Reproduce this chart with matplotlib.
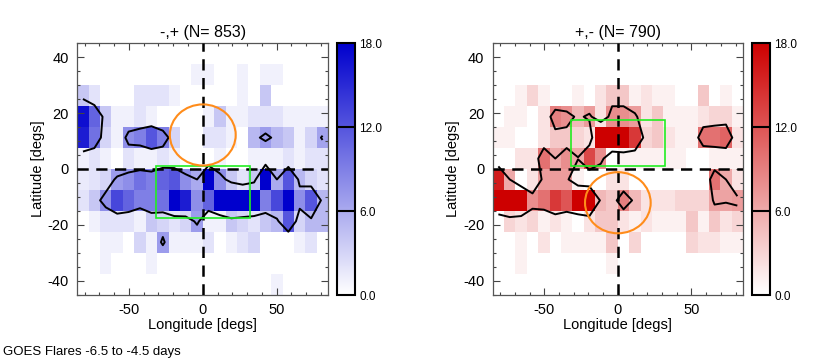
import numpy as np
import matplotlib
matplotlib.use("Agg")
import matplotlib.pyplot as plt
from matplotlib.colors import LinearSegmentedColormap
from matplotlib.patches import Ellipse, Rectangle
from matplotlib.ticker import MultipleLocator

plt.rcParams['font.family'] = ['Liberation Sans', 'DejaVu Sans']
plt.rcParams['axes.unicode_minus'] = False

# binning: 22 longitude bins over -85..85, 12 latitude bins of 7.5 deg
lon_edges = np.linspace(-85, 85, 23)
lat_edges = np.linspace(45, -45, 13)

# flare counts per bin, rows from north (45) to south (-45)
counts_neg_pos = [
    [0, 0, 0, 0, 0, 0, 0, 0, 0, 0, 0, 0, 0, 0, 0, 0, 0, 0, 0, 0, 0, 0],
    [0, 0, 0, 0, 0, 0, 0, 0, 0, 0, 1, 1, 0, 0, 1, 0, 1, 1, 0, 0, 0, 0],
    [4, 2, 0, 0, 0, 2, 2, 2, 1, 0, 0, 0, 0, 0, 1, 0, 4, 0, 0, 0, 0, 0],
    [17, 11, 4, 1, 1, 2, 1, 0, 0, 0, 0, 1, 4, 1, 1, 2, 2, 2, 1, 1, 1, 1],
    [16, 10, 3, 1, 8, 9, 12, 9, 3, 0, 0, 2, 2, 1, 0, 5, 7, 5, 4, 1, 3, 6.5],
    [1, 2, 1, 0, 2, 1, 1, 2, 1, 0, 0, 0, 1, 0, 0, 1, 1, 1, 2, 1, 2, 2],
    [1.5, 2, 3, 7, 8, 10, 9, 11, 12, 8, 6, 18, 8, 4, 2, 4, 18, 6, 12, 5, 3, 2],
    [2, 4, 8, 13, 11, 9, 9, 10, 18, 16, 8, 11, 18, 18, 18, 18, 9, 13, 18, 8, 12, 5],
    [0, 1, 2, 2, 2, 1, 4, 3, 2, 3, 7, 1, 1, 4, 3, 2, 4, 5, 12, 3, 5, 5],
    [0, 0, 1, 1, 0, 3, 1, 7, 1, 1, 1, 2, 0, 1, 2, 3, 0, 0, 0, 1, 2, 0],
    [0, 0, 1, 0, 0, 0, 1, 0, 0, 0, 0, 0, 0, 0, 0, 0, 0, 0, 0, 0, 0, 0],
    [0, 0, 0, 0, 0, 0, 0, 0, 0, 0, 0, 0, 0, 0, 0, 0, 0, 1, 0, 0, 0, 0],
]

counts_pos_neg = [
    [0, 0, 0, 0, 0, 0, 0, 0, 0, 0, 0, 0, 0, 0, 0, 0, 0, 0, 0, 0, 0, 0],
    [0, 0, 0, 0, 0, 0, 0, 0, 0, 0, 0, 0, 0, 0, 0, 0, 0, 0, 0, 0, 0, 0],
    [0, 0, 1, 3, 1, 0, 0, 1, 0, 2, 4, 4, 1, 2, 1, 1, 0, 0, 4, 0, 1, 0],
    [0, 1, 1, 0, 2, 9, 8, 5, 7, 2, 8, 8, 7, 2, 4, 1, 1, 1, 2, 3, 3, 1],
    [1, 1, 0, 0, 2, 4, 4, 3, 2, 18, 18, 18, 14, 3, 4, 2, 1, 1, 10, 10, 11, 2],
    [0, 0, 2, 2, 10, 6, 8, 6.2, 13, 8, 0, 1, 1, 1, 1, 1, 1, 0, 0, 1, 1, 1],
    [16, 6, 0, 2, 7, 7, 7, 1, 0, 0, 2, 2, 0, 0, 0, 0, 0, 0, 0, 10, 6, 2],
    [18, 18, 18, 8, 10, 14, 12, 18, 18, 5, 4, 9, 5, 2, 2, 2, 3, 3, 3, 6.5, 6.5, 7],
    [0, 3, 2, 3, 1, 2, 1, 0, 2, 4, 4, 2, 1, 2, 1, 1, 1, 4, 1, 4, 2, 3],
    [0, 0, 1, 0, 2, 0, 1, 1, 1, 1, 4, 0, 3, 0, 0, 0, 0, 3, 2, 2, 1, 1],
    [0, 0, 1, 0, 0, 0, 0, 0, 0, 0, 1, 0, 0, 0, 0, 0, 0, 0, 0, 0, 0, 0],
    [0, 0, 0, 0, 0, 0, 0, 0, 0, 0, 0, 0, 0, 0, 0, 0, 0, 0, 0, 0, 0, 0],
]

titles = ["-,+ (N= 853)", "+,- (N= 790)"]
cbar_ticks = [0, 6, 12, 18]
vmax = 18.0


def draw_panel(fig, rect, cbar_rect, counts, cmap, title, circ_center, box_lat):
    ax = fig.add_axes(rect)
    data = np.array(counts, dtype=float)
    mesh = ax.pcolormesh(lon_edges, lat_edges, data, cmap=cmap, vmin=0, vmax=vmax,
                         shading='flat', zorder=1)
    lon_c = 0.5 * (lon_edges[:-1] + lon_edges[1:])
    lat_c = 0.5 * (lat_edges[:-1] + lat_edges[1:])
    ax.contour(lon_c, lat_c, data, levels=[6], colors='k', linewidths=1.4, zorder=3)

    ax.axvline(0, color='k', ls=(0, (4.5, 3)), lw=1.8, zorder=4)
    ax.axhline(0, color='k', ls=(0, (4.5, 3)), lw=1.8, zorder=4)

    ax.add_patch(Rectangle((-32, box_lat[0]), 64, box_lat[1] - box_lat[0], fill=False,
                           ec='#22EE22', lw=1.2, zorder=5))
    ax.add_patch(Ellipse(circ_center, width=44.6, height=21.9, fill=False,
                         ec='#FF8C1A', lw=1.5, zorder=5))

    ax.set_xlim(-85, 85)
    ax.set_ylim(-45, 45)
    ax.set_xticks([-50, 0, 50])
    ax.set_yticks([-40, -20, 0, 20, 40])
    ax.xaxis.set_minor_locator(MultipleLocator(10))
    ax.yaxis.set_minor_locator(MultipleLocator(5))
    ax.tick_params(which='both', direction='in', top=True, right=True,
                   labelsize=10.5, color='#444444')
    ax.tick_params(which='major', length=5, width=0.8, pad=6)
    ax.tick_params(which='minor', length=2.5, width=0.8)
    for sp in ax.spines.values():
        sp.set_color('#555555')
        sp.set_linewidth(0.9)
    ax.set_xlabel("Longitude [degs]", fontsize=10.5, labelpad=1)
    ax.set_ylabel("Latitude [degs]", fontsize=10.5, labelpad=2)
    ax.set_title(title, fontsize=11.5, pad=5)

    cax = fig.add_axes(cbar_rect)
    cb = fig.colorbar(mesh, cax=cax)
    cb.set_ticks(cbar_ticks)
    cb.set_ticklabels([f"{t:.1f}" for t in cbar_ticks])
    cb.ax.tick_params(length=0, labelsize=8.5, pad=3)
    cb.outline.set_linewidth(1.5)
    for lev in [6, 12]:
        cax.axhline(lev, color='k', lw=1.5)
    return ax


fig = plt.figure(figsize=(8.3, 3.63), dpi=100)

blues = LinearSegmentedColormap.from_list('w2b', ['#FFFFFF', '#0000CD'])
reds = LinearSegmentedColormap.from_list('w2r', ['#FFFFFF', '#CD0000'])

draw_panel(fig, [0.0931, 0.1887, 0.3024, 0.6915], [0.4064, 0.1873, 0.0213, 0.6935],
           counts_neg_pos, blues, titles[0], (0, 12.2), (-17.5, 1.0))
draw_panel(fig, [0.5936, 0.1887, 0.3016, 0.6915], [0.9064, 0.1873, 0.0213, 0.6935],
           counts_pos_neg, reds, titles[1], (0, -12.1), (1.0, 17.5))

fig.text(0.004, 0.03, "GOES Flares -6.5 to -4.5 days", fontsize=9.5, va='center', ha='left')

fig.savefig("out.png", dpi=100)
